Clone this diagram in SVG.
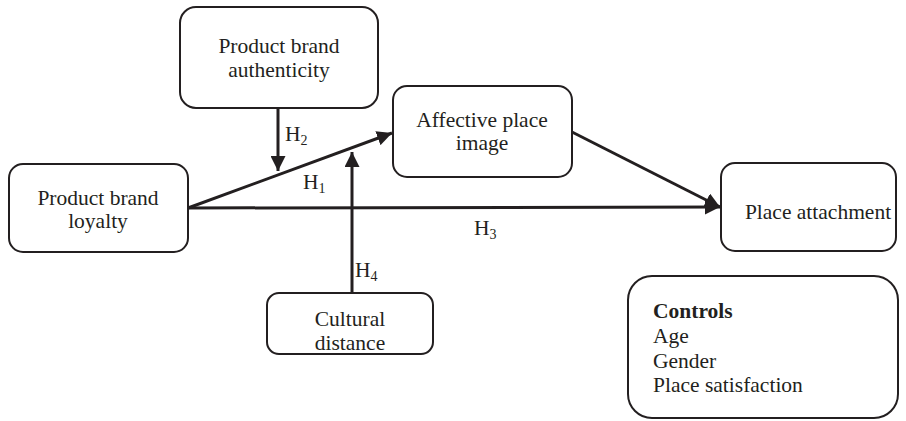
<svg xmlns="http://www.w3.org/2000/svg" width="906" height="421" viewBox="0 0 906 421">
<style>
.box{fill:#fff;stroke:#231f20;stroke-width:2}
.t{font-family:"Liberation Serif",serif;font-size:21.5px;fill:#231f20}
.c{text-anchor:middle}
.ln{stroke:#231f20;stroke-width:3;fill:none}
.sub{font-size:14px}
</style>
<defs>
<marker id="ah" viewBox="0 0 10 10" refX="10" refY="5" markerWidth="5" markerHeight="5" markerUnits="strokeWidth" orient="auto">
<path d="M0,0 L10,5 L0,10 Z" fill="#231f20"/>
</marker>
</defs>
<g id="connectors">
<line class="ln" x1="278" y1="108" x2="278" y2="171" marker-end="url(#ah)"/>
<line class="ln" x1="188" y1="208" x2="392" y2="133" marker-end="url(#ah)"/>
<line class="ln" x1="352" y1="293" x2="352" y2="152" marker-end="url(#ah)"/>
<line class="ln" x1="188" y1="208" x2="720" y2="207" marker-end="url(#ah)"/>
<line class="ln" x1="572" y1="132" x2="720" y2="207" marker-end="url(#ah)"/>
<text class="t" x="285" y="141">H<tspan class="sub" dy="4">2</tspan></text>
<text class="t" x="303" y="189">H<tspan class="sub" dy="4">1</tspan></text>
<text class="t" x="474" y="235">H<tspan class="sub" dy="4">3</tspan></text>
<text class="t" x="355" y="277">H<tspan class="sub" dy="4">4</tspan></text>
</g>
<g id="authenticity">
<rect class="box" x="180" y="7" width="198" height="101" rx="16"/>
<text class="t c" x="279" y="53">Product brand</text>
<text class="t c" x="279" y="77">authenticity</text>
</g>
<g id="loyalty">
<rect class="box" x="9" y="164" width="179" height="88" rx="14"/>
<text class="t c" x="98" y="205">Product brand</text>
<text class="t c" x="98" y="228">loyalty</text>
</g>
<g id="affective">
<rect class="box" x="393" y="86" width="179" height="91" rx="14"/>
<text class="t c" x="482" y="127">Affective place</text>
<text class="t c" x="482" y="150">image</text>
</g>
<g id="attachment">
<rect class="box" x="721" y="163" width="175" height="88" rx="14"/>
<text class="t c" x="818" y="219">Place attachment</text>
</g>
<g id="cultural">
<rect class="box" x="267" y="293" width="166" height="61" rx="12"/>
<text class="t c" x="350" y="326">Cultural</text>
<text class="t c" x="350" y="350">distance</text>
</g>
<g id="controls">
<rect class="box" x="628" y="276" width="270" height="142" rx="24"/>
<text class="t" x="653" y="318" font-weight="bold">Controls</text>
<text class="t" x="653" y="343">Age</text>
<text class="t" x="653" y="368">Gender</text>
<text class="t" x="653" y="392">Place satisfaction</text>
</g>
</svg>
